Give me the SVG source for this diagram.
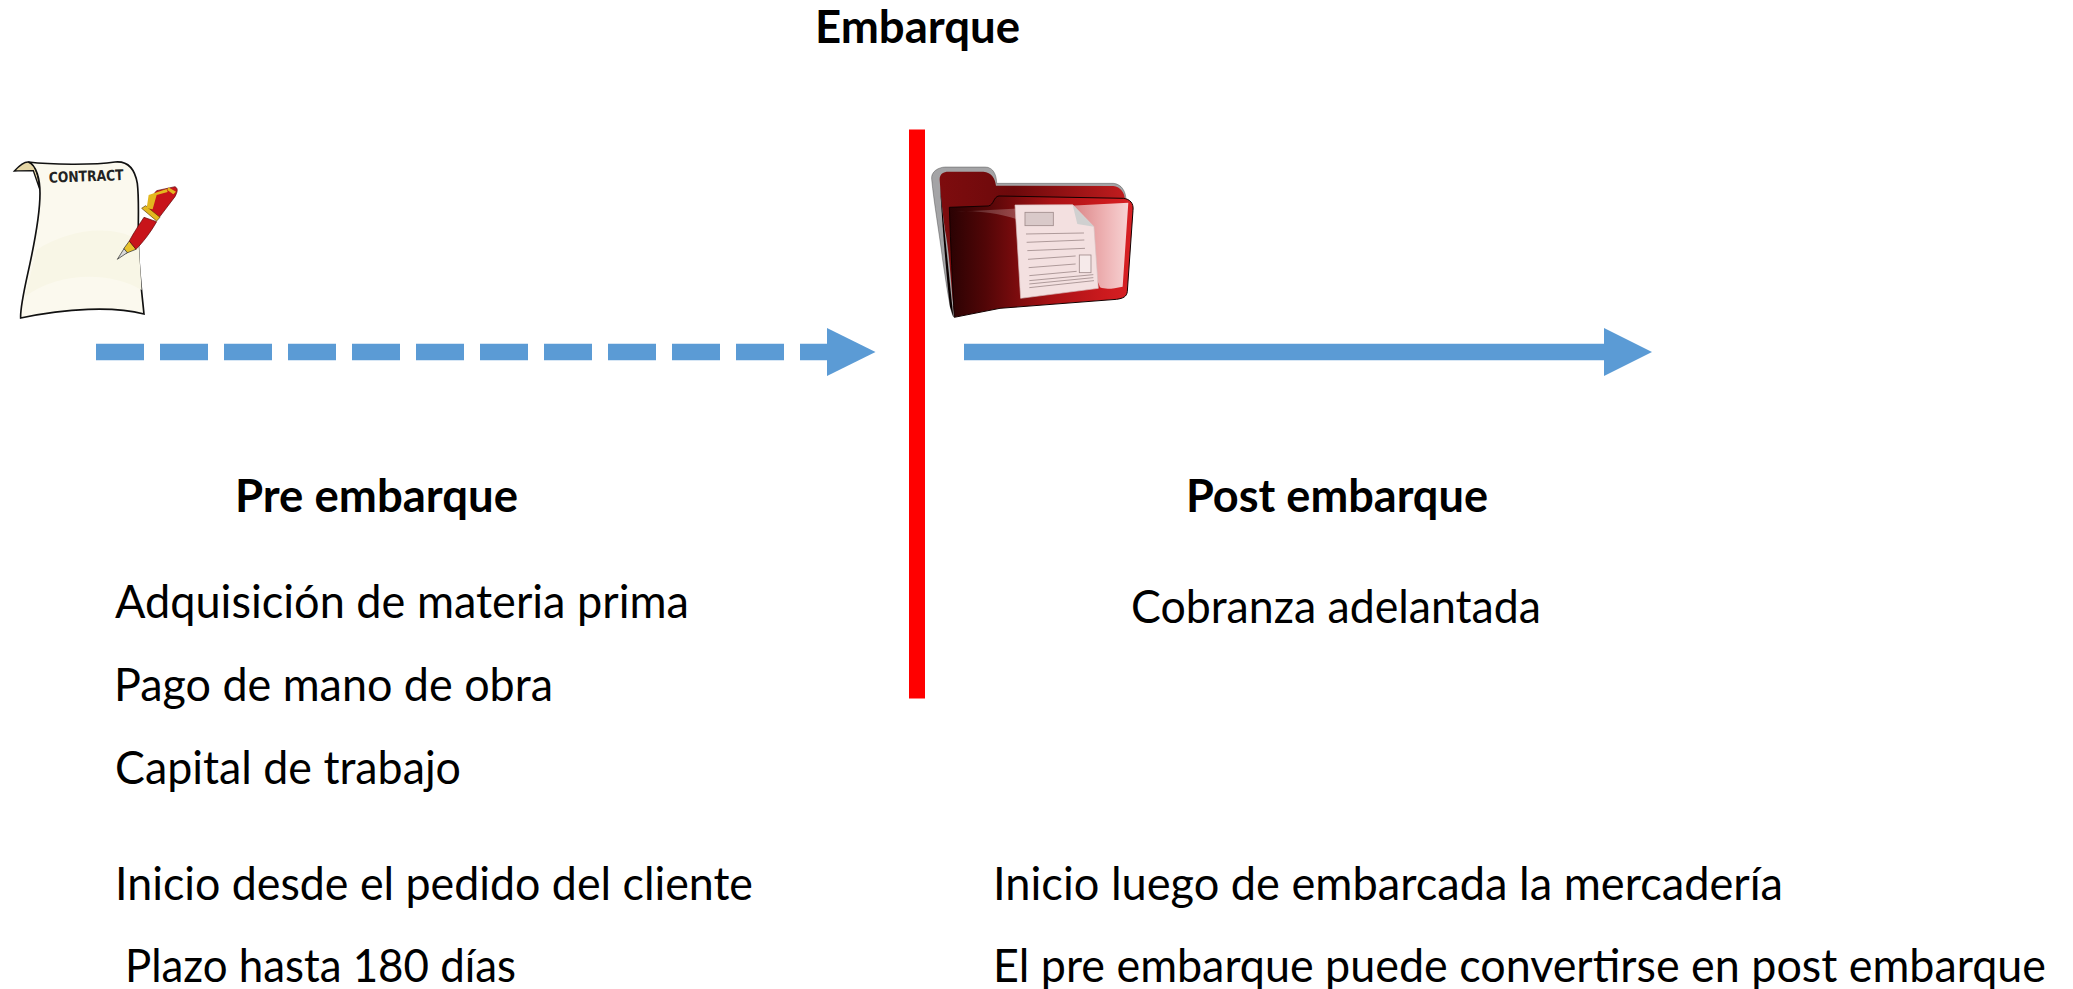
<svg xmlns="http://www.w3.org/2000/svg" width="2073" height="989" viewBox="0 0 2073 989">
<style>
text{font-family:Lato,"Open Sans","Liberation Sans",sans-serif;font-size:46px;fill:#000}
.b{font-weight:700}
.ln{stroke:#5b9bd5;stroke-width:16.5;fill:none}
.hd{fill:#5b9bd5}
.dl{stroke:#a08c8c;stroke-width:2.5;fill:none}
</style>
<defs>
<linearGradient id="fg" x1="0" y1="0" x2="1" y2="0"><stop offset="0" stop-color="#2a0203"/><stop offset=".2" stop-color="#520607"/><stop offset=".55" stop-color="#a81215"/><stop offset=".85" stop-color="#cc1a1e"/><stop offset="1" stop-color="#d82024"/></linearGradient>
<linearGradient id="bg" x1="0" y1="0" x2="1" y2="0"><stop offset="0" stop-color="#7e0c0e"/><stop offset=".4" stop-color="#6c090b"/><stop offset="1" stop-color="#c01c1e"/></linearGradient>
<linearGradient id="gl" x1="0" y1="0" x2="1" y2="0"><stop offset="0" stop-color="#fff" stop-opacity=".12"/><stop offset=".5" stop-color="#fff" stop-opacity=".3"/><stop offset="1" stop-color="#fff" stop-opacity=".8"/></linearGradient>
</defs>
<g id="contract-icon" transform="translate(0 140) scale(.3333)">
<path d="M100,92C85,92 62,92 43,93C55,80 70,65 85,66C105,68 115,100 120,150Z" fill="#e6d7a6" stroke="#111" stroke-width="4"/>
<path d="M85,66C150,74 280,76 345,66C385,62 405,90 412,130C418,180 414,240 415,300C415,380 425,450 432,522C340,498 200,505 62,534C60,500 75,440 90,370C105,300 120,220 120,160C120,120 110,75 85,66Z" fill="#fbf9ee" stroke="#111" stroke-width="5"/>
<path d="M110,330C200,270 330,250 415,300L425,450C320,390 170,400 75,470Z" fill="#f8f6e6"/>
<text x="147" y="128" transform="rotate(-2 147 128)" style="font-family:'DejaVu Sans',sans-serif;font-size:44px;font-weight:700;fill:#222" textLength="224" lengthAdjust="spacingAndGlyphs">CONTRACT</text>
<path d="M388,303L408,328L378,340L372,325Z" fill="#e8c22c" stroke="#222" stroke-width="2"/>
<path d="M352,358L372,326L382,338Z" fill="#d8d8d8" stroke="#222" stroke-width="2"/>
<path d="M388,303C400,280 420,250 432,232L470,245C450,280 430,305 408,328Z" fill="#c8141a" stroke="#5a0508" stroke-width="2"/>
<path d="M440,205C450,190 455,165 470,152L525,140C535,145 533,155 525,170L478,232Z" fill="#c8141a" stroke="#5a0508" stroke-width="2"/>
<path d="M425,205L437,197L480,232L470,243Z" fill="#e3b81f" stroke="#5a3a05" stroke-width="2"/>
<path d="M440,205L446,165L500,147L503,156L470,165L458,208Z" fill="#e3b81f"/>
<path d="M505,142L528,155L520,163L502,150Z" fill="#e3b81f"/>
</g>
<g id="folder-icon" transform="translate(900 120) scale(.3333)">
<path d="M95,178C92,155 115,142 135,141L255,141C280,141 290,165 290,190L640,190C665,192 678,215 678,240L160,590C150,570 140,500 128,420C118,340 102,250 95,178Z" fill="#a4a4a6" stroke="#222" stroke-width="1"/>
<path d="M119,180C118,162 130,155 145,155L250,155C275,157 285,175 288,197L640,198C662,200 675,220 675,240L165,590C155,540 150,400 135,330C128,280 122,230 119,180Z" fill="url(#bg)"/>
<path d="M120,200L160,590L150,560C140,480 128,330 120,200Z" fill="#0a0000"/>
<path d="M148,262L265,258C282,255 280,230 297,228L670,235C690,237 702,250 699,272L682,515C680,530 670,535 650,538L300,565L163,592C158,500 152,380 148,262Z" fill="url(#fg)" stroke="#120000" stroke-width="3"/>
<path d="M170,275L685,248L668,500C640,505 620,510 600,502L530,320L360,300C280,275 220,272 170,275Z" fill="url(#gl)"/>
<g id="doc">
<path d="M345,255L518,254L582,320L595,505L362,535Z" fill="#f3e0e0" stroke="#d8c0c0" stroke-width="2"/>
<path d="M518,254L582,320L532,312Z" fill="#d0d0d0"/>
<rect x="375" y="277" width="85" height="40" fill="#d9c9c9" stroke="#a08c8c" stroke-width="2.500"/>
<rect x="538" y="405" width="35" height="53" fill="#f6eaea" stroke="#a08c8c" stroke-width="2.500"/>
<path class="dl" d="M378,342L552,339M380,367L553,360M382,392L555,385M384,418L527,408M386,443L527,432M388,467L530,454M388,482L580,464M388,492L580,473M388,503L582,482"/>
</g>
</g>
<g id="connectors">
<path class="ln" d="M96,352H827" stroke-dasharray="48 16"/>
<path class="hd" d="M827,328L875.500,352L827,376Z"/>
<path class="ln" d="M964,352H1605"/>
<path class="hd" d="M1604,328L1652,352L1604,376Z"/>
</g>
<rect id="divider" x="909" y="129.500" width="16" height="569" fill="#f00"/>
<g id="labels">
<text class="b" x="815" y="43" textLength="205" lengthAdjust="spacingAndGlyphs">Embarque</text>
<text class="b" x="235" y="512" textLength="283" lengthAdjust="spacingAndGlyphs">Pre embarque</text>
<text class="b" x="1186" y="512" textLength="302" lengthAdjust="spacingAndGlyphs">Post embarque</text>
<text x="115" y="618" textLength="574" lengthAdjust="spacingAndGlyphs">Adquisición de materia prima</text>
<text x="114" y="701" textLength="439" lengthAdjust="spacingAndGlyphs">Pago de mano de obra</text>
<text x="115" y="784" textLength="346" lengthAdjust="spacingAndGlyphs">Capital de trabajo</text>
<text x="115" y="900" textLength="638" lengthAdjust="spacingAndGlyphs">Inicio desde el pedido del cliente</text>
<text x="125" y="982" textLength="391" lengthAdjust="spacingAndGlyphs">Plazo hasta 180 días</text>
<text x="1131" y="623" textLength="410" lengthAdjust="spacingAndGlyphs">Cobranza adelantada</text>
<text x="993" y="900" textLength="790" lengthAdjust="spacingAndGlyphs">Inicio luego de embarcada la mercadería</text>
<text x="993" y="982" textLength="1053" lengthAdjust="spacingAndGlyphs">El pre embarque puede convertirse en post embarque</text>
</g>
</svg>
